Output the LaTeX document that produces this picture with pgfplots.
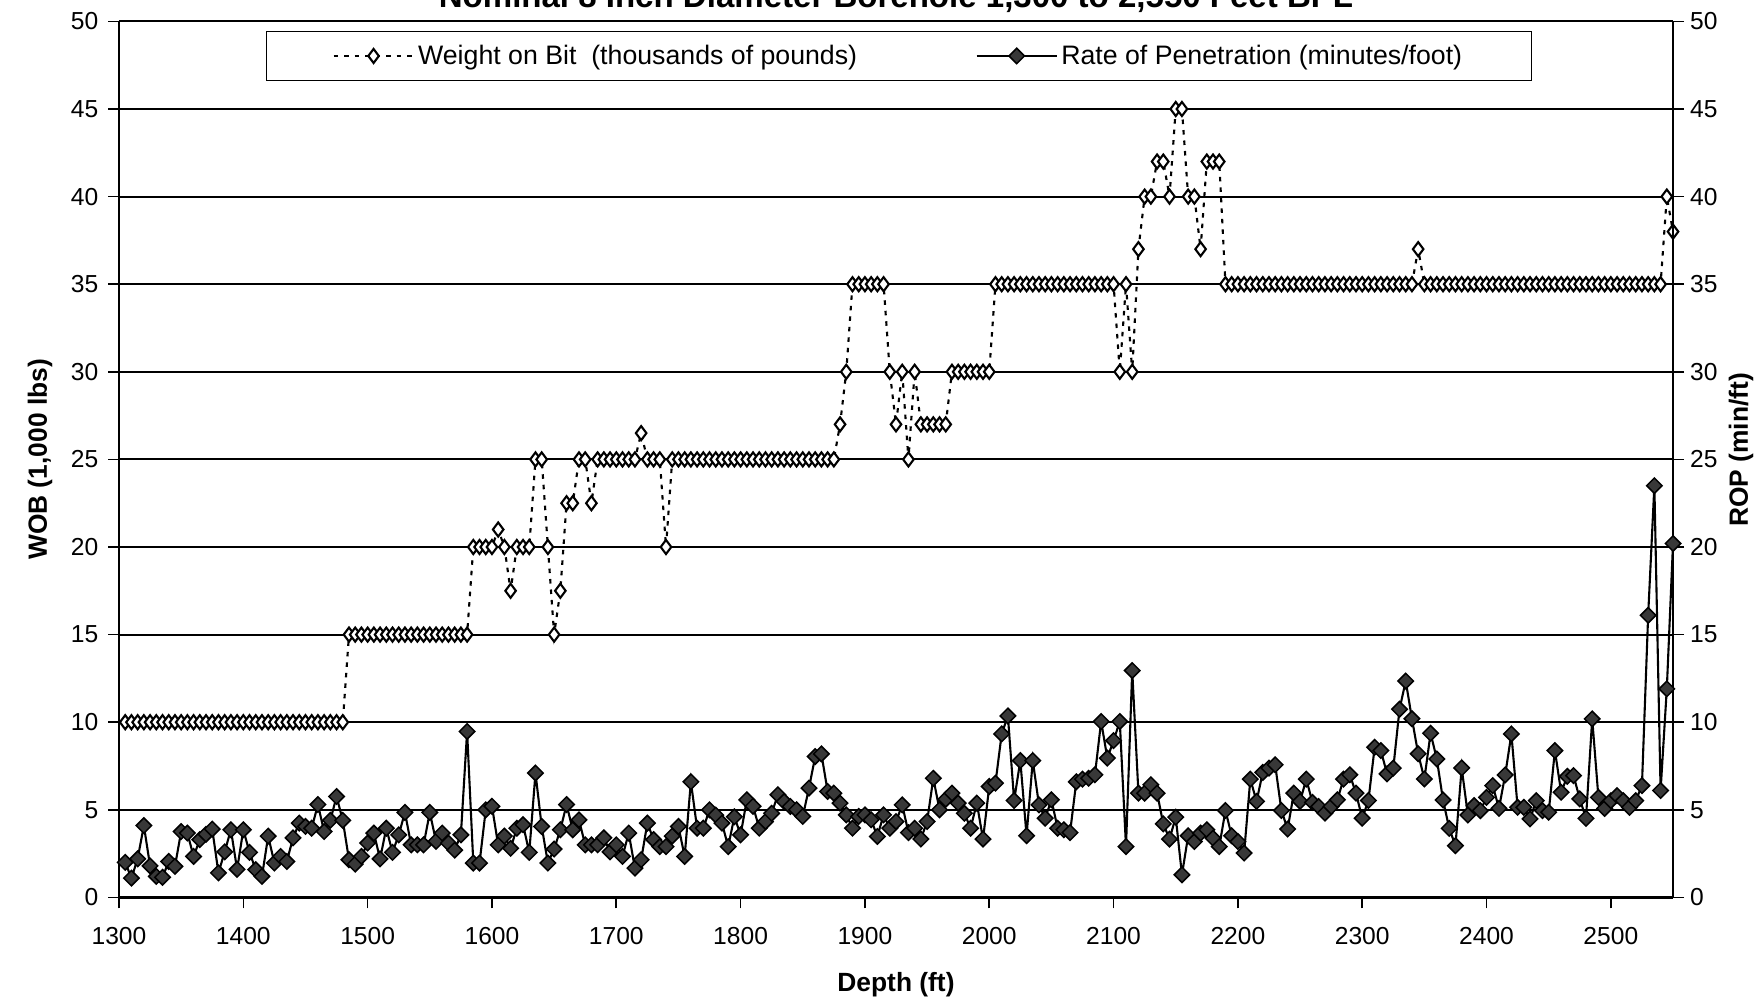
\documentclass[border=0pt]{standalone}
\usepackage{pgfplots}
\pgfplotsset{compat=1.18}
\usepackage{pgfplotstable}
\usepackage{fontspec}
\setmainfont{Liberation Sans}
\pgfplotstableread{
d w r
1305 10 2.0
1310 10 1.1
1315 10 2.2
1320 10 4.1
1325 10 1.8
1330 10 1.2
1335 10 1.15
1340 10 2.05
1345 10 1.77
1350 10 3.76
1355 10 3.67
1360 10 2.34
1365 10 3.3
1370 10 3.6
1375 10 3.9
1380 10 1.4
1385 10 2.6
1390 10 3.86
1395 10 1.6
1400 10 3.86
1405 10 2.57
1410 10 1.58
1415 10 1.2
1420 10 3.5
1425 10 1.96
1430 10 2.34
1435 10 2.05
1440 10 3.4
1445 10 4.24
1450 10 4.05
1455 10 3.95
1460 10 5.3
1465 10 3.76
1470 10 4.4
1475 10 5.76
1480 10 4.4
1485 15 2.15
1490 15 1.9
1495 15 2.34
1500 15 3.1
1505 15 3.67
1510 15 2.2
1515 15 3.95
1520 15 2.57
1525 15 3.57
1530 15 4.85
1535 15 3.0
1540 15 3.0
1545 15 3.0
1550 15 4.85
1555 15 3.2
1560 15 3.67
1565 15 3.1
1570 15 2.7
1575 15 3.57
1580 15 9.47
1585 20 1.96
1590 20 1.96
1595 20 5.0
1600 20 5.2
1605 21 3.0
1610 20 3.5
1615 17.5 2.8
1620 20 3.95
1625 20 4.15
1630 20 2.57
1635 25 7.1
1640 25 4.05
1645 20 1.96
1650 15 2.76
1655 17.5 3.86
1660 22.5 5.3
1665 22.5 3.86
1670 25 4.43
1675 25 3.0
1680 22.5 3.0
1685 25 3.0
1690 25 3.4
1695 25 2.6
1700 25 3.0
1705 25 2.34
1710 25 3.67
1715 25 1.67
1720 26.5 2.15
1725 25 4.24
1730 25 3.3
1735 25 2.9
1740 20 2.9
1745 25 3.5
1750 25 4.05
1755 25 2.34
1760 25 6.6
1765 25 3.95
1770 25 3.95
1775 25 5.0
1780 25 4.7
1785 25 4.24
1790 25 2.9
1795 25 4.6
1800 25 3.57
1805 25 5.57
1810 25 5.2
1815 25 3.95
1820 25 4.33
1825 25 4.8
1830 25 5.86
1835 25 5.47
1840 25 5.19
1845 25 5.0
1850 25 4.62
1855 25 6.24
1860 25 8.04
1865 25 8.19
1870 25 6.05
1875 25 5.95
1880 27 5.38
1885 30 4.71
1890 35 3.95
1895 35 4.62
1900 35 4.71
1905 35 4.43
1910 35 3.48
1915 35 4.71
1920 30 3.95
1925 27 4.33
1930 30 5.28
1935 25 3.7
1940 30 3.95
1945 27 3.33
1950 27 4.33
1955 27 6.8
1960 27 5.0
1965 27 5.6
1970 30 5.95
1975 30 5.38
1980 30 4.8
1985 30 3.95
1990 30 5.38
1995 30 3.33
2000 30 6.33
2005 35 6.52
2010 35 9.33
2015 35 10.36
2020 35 5.53
2025 35 7.81
2030 35 3.52
2035 35 7.81
2040 35 5.28
2045 35 4.52
2050 35 5.57
2055 35 3.95
2060 35 3.86
2065 35 3.7
2070 35 6.6
2075 35 6.75
2080 35 6.8
2085 35 7.0
2090 35 10.04
2095 35 7.95
2100 35 8.95
2105 30 10.04
2110 35 2.9
2115 30 12.95
2120 37 5.95
2125 40 5.95
2130 40 6.43
2135 42 5.95
2140 42 4.2
2145 40 3.33
2150 45 4.58
2155 45 1.29
2160 40 3.52
2165 40 3.19
2170 37 3.67
2175 42 3.86
2180 42 3.38
2185 42 2.9
2190 35 4.96
2195 35 3.52
2200 35 3.19
2205 35 2.53
2210 35 6.75
2215 35 5.48
2220 35 7.13
2225 35 7.38
2230 35 7.57
2235 35 4.96
2240 35 3.9
2245 35 5.95
2250 35 5.48
2255 35 6.75
2260 35 5.42
2265 35 5.19
2270 35 4.81
2275 35 5.19
2280 35 5.57
2285 35 6.75
2290 35 7.0
2295 35 5.95
2300 35 4.52
2305 35 5.53
2310 35 8.57
2315 35 8.38
2320 35 7.05
2325 35 7.38
2330 35 10.74
2335 35 12.35
2340 35 10.2
2345 37 8.2
2350 35 6.76
2355 35 9.37
2360 35 7.9
2365 35 5.56
2370 35 3.94
2375 35 2.95
2380 35 7.39
2385 35 4.7
2390 35 5.24
2395 35 4.95
2400 35 5.71
2405 35 6.38
2410 35 5.08
2415 35 6.99
2420 35 9.33
2425 35 5.14
2430 35 5.14
2435 35 4.48
2440 35 5.52
2445 35 4.95
2450 35 4.86
2455 35 8.38
2460 35 6.0
2465 35 6.91
2470 35 6.95
2475 35 5.62
2480 35 4.51
2485 35 10.19
2490 35 5.71
2495 35 5.08
2500 35 5.52
2505 35 5.81
2510 35 5.52
2515 35 5.14
2520 35 5.52
2525 35 6.38
2530 35 16.1
2535 35 23.5
2540 35 6.1
2545 40 11.9
2550 38 20.2
}\rdata

\pgfplotsset{
  wobstyle/.style={black, line width=0.42mm, dash pattern=on 0.9mm off 1.2mm,
    mark=diamond*, mark size=4.0pt,
    mark options={solid, fill=white, draw=black, line width=0.42mm}},
  ropstyle/.style={black, line width=0.42mm, solid,
    mark=square*, mark size=3.1pt,
    mark options={solid, rotate=45, fill=black!78, draw=black, line width=0.3mm}},
  common/.style={scale only axis, width=310.8mm, height=175.2mm,
    xmin=1300, xmax=2550, ymin=0, ymax=50, clip=false,
    ytick={0,5,...,50},
    tick align=outside, major tick length=2.2mm,
    tick style={black, line width=0.9pt},
    axis line style={black, line width=1.3pt},
    ticklabel style={font=\fontsize{14}{16}\selectfont},
    /pgf/number format/assume math mode=true,
    /pgf/number format/1000 sep={}},
}

\begin{document}
\begin{tikzpicture}
\begin{axis}[common, name=ax1,
  axis y line*=left, axis x line*=bottom,
  xtick={1300,1400,...,2500},
  xticklabel style={yshift=-2.5mm},
  yticklabel style={xshift=-0.7mm},
  ymajorgrids, grid style={black, line width=1.1pt},
  xlabel={Depth (ft)}, ylabel={WOB (1,000 lbs)},
  every axis x label/.style={at={(axis description cs:0.5,0)}, anchor=center, yshift=-17.5mm, font=\bfseries\fontsize{15}{17}\selectfont},
  every axis y label/.style={at={(axis description cs:-0.0508,0.5)}, rotate=90, anchor=center, font=\bfseries\fontsize{15}{17}\selectfont},
]
\addplot[wobstyle] table[x=d,y=w]{\rdata};
\end{axis}
\begin{axis}[common, at={(ax1.south west)}, anchor=south west,
  axis y line*=right, axis x line=none,
  ylabel={ROP (min/ft)},
  every axis y label/.style={at={(axis description cs:1.0438,0.511)}, rotate=90, anchor=center, font=\bfseries\fontsize{15}{17}\selectfont},
  legend columns=2,
  legend image code/.code={\draw[mark repeat=2,mark phase=2,#1] plot coordinates {(0mm,0mm) (8mm,0mm) (16mm,0mm)};},
  legend style={at={(0.502,0.989)}, anchor=north, draw=black, line width=0.5pt, fill=white,
    font=\fontsize{15.2}{17}\selectfont, inner xsep=13.2mm, inner ysep=2.0mm,
    /tikz/every even column/.append style={column sep=23mm}},
]
\addlegendimage{wobstyle}
\addlegendentry{Weight on Bit\ \ (thousands of pounds)}
\addplot[ropstyle] table[x=d,y=r]{\rdata};
\addlegendentry{Rate of Penetration (minutes/foot)}
\end{axis}
\node[anchor=base, font=\bfseries\fontsize{18.8}{20}\selectfont] at ([yshift=2.8mm]ax1.north) {Nominal 8 Inch Diameter Borehole 1,300 to 2,550 Feet BPL};
\pgfresetboundingbox
\useasboundingbox ([shift={(-23.8mm,-20.46mm)}]ax1.south west) rectangle ([shift={(18.2mm,4.28mm)}]ax1.north east);
\end{tikzpicture}
\end{document}
